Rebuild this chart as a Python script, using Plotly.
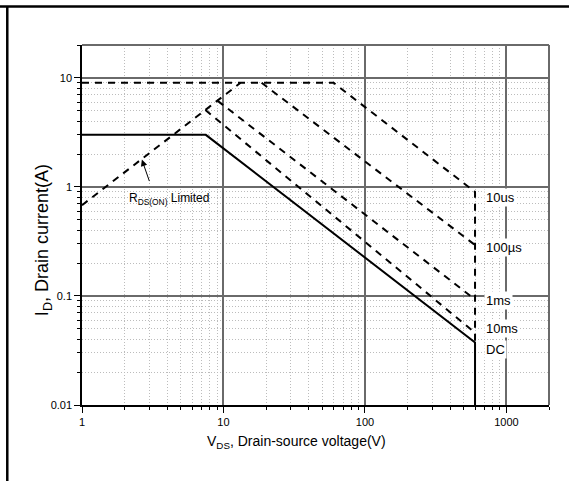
import math
import plotly.graph_objects as go

# ---- data (V in volts, I in amps) ----
dc_v = [1, 7.5, 600, 600]
dc_i = [3.0, 3.0, 0.0375, 0.01]

us10_v = [1, 60, 600, 600]
us10_i = [9.0, 9.0, 0.9, 0.0375]

us100_v = [18.6, 600]
us100_i = [9.0, 0.293]

ms1_v = [9.1, 600]
ms1_i = [6.15, 0.093]

ms10_v = [7.45, 600]
ms10_i = [5.07, 0.046]

rds_v = [1, 13.2]
rds_i = [0.68, 9.0]

series_labels = ["10us", "100\u00b5s", "1ms", "10ms", "DC"]
label_i = [0.80, 0.278, 0.090, 0.050, 0.0326]

x_ticks = [1, 10, 100, 1000]
x_ticktext = ["1", "10", "100", "1000"]
y_ticks = [0.01, 0.1, 1, 10]
y_ticktext = ["0.01", "0.1", "1", "10"]

FONT = "Liberation Sans, Arial, sans-serif"
DASH = "7px,6px"

fig = go.Figure()

def add(v, i, dash):
    fig.add_trace(go.Scatter(x=v, y=i, mode="lines",
                             line=dict(color="black", width=2, dash=dash),
                             hoverinfo="skip"))

add(us10_v, us10_i, DASH)
add(us100_v, us100_i, DASH)
add(ms1_v, ms1_i, DASH)
add(ms10_v, ms10_i, DASH)
add(rds_v, rds_i, DASH)
add(dc_v, dc_i, "solid")

x_minor = [m * 10 ** d for d in range(0, 3) for m in range(2, 10)] + [2000]
y_minor = [m * 10 ** d for d in range(-2, 1) for m in range(2, 10)] + [20]

axis_common = dict(
    showline=True, linecolor="black", linewidth=1.5, mirror=False,
    ticks="outside", ticklen=6, tickwidth=1, tickcolor="black",
    showgrid=True, gridcolor="#6a6a6a", gridwidth=1.5,
    zeroline=False,
    tickfont=dict(family=FONT, size=11, color="black"),
)

minor_common = dict(tickmode="array", ticks="outside", ticklen=3, tickcolor="black",
                    showgrid=True, gridcolor="#bcbcbc", griddash="1px,2px", gridwidth=1)

fig.update_xaxes(type="log", range=[0, math.log10(2000)],
                 tickmode="array", tickvals=x_ticks, ticktext=x_ticktext,
                 minor=dict(tickvals=x_minor, **minor_common),
                 **axis_common)
fig.update_yaxes(type="log", range=[-2, math.log10(20)],
                 tickmode="array", tickvals=y_ticks, ticktext=y_ticktext,
                 minor=dict(tickvals=y_minor, **minor_common),
                 **axis_common)

shapes = [
    # grey top / right plot border
    dict(type="line", xref="x domain", yref="y domain", x0=0, x1=1, y0=1, y1=1,
         line=dict(color="#6a6a6a", width=2)),
    dict(type="line", xref="x domain", yref="y domain", x0=1, x1=1, y0=0, y1=1,
         line=dict(color="#6a6a6a", width=2)),
    # outer frame (top and left)
    dict(type="line", xref="paper", yref="paper", x0=-0.2, x1=1.1, y0=1.107, y1=1.107,
         line=dict(color="black", width=2.5)),
    dict(type="line", xref="paper", yref="paper", x0=-0.16, x1=-0.16, y0=-0.3, y1=1.107,
         line=dict(color="black", width=2.5)),
]

annotations = []
for txt, yi in zip(series_labels, label_i):
    annotations.append(dict(x=2.843, y=math.log10(yi), xref="x", yref="y",
                            text=txt, showarrow=False, xanchor="left", yanchor="middle",
                            bgcolor="white", borderpad=1,
                            font=dict(family=FONT, size=13, color="black")))

annotations.append(dict(x=0.617, y=-0.112, xref="x", yref="y",
                        text="R<sub>DS(ON)</sub> Limited", showarrow=False,
                        xanchor="center", yanchor="middle",
                        font=dict(family=FONT, size=12, color="black")))
annotations.append(dict(x=math.log10(2.65), y=math.log10(1.78), xref="x", yref="y",
                        text="", showarrow=True, ax=8, ay=23,
                        arrowhead=2, arrowsize=1.3, arrowwidth=1, arrowcolor="black"))

annotations.append(dict(x=0.46, y=-0.072, xref="paper", yref="paper",
                        text="V<sub>DS</sub>, Drain-source voltage(V)", showarrow=False,
                        xanchor="center", yanchor="top",
                        font=dict(family=FONT, size=14, color="black")))
annotations.append(dict(x=-0.0835, y=0.458, xref="paper", yref="paper",
                        text="I<sub>D</sub>, Drain current(A)", showarrow=False,
                        textangle=-90, xanchor="center", yanchor="middle",
                        font=dict(family=FONT, size=18, color="black")))

fig.update_layout(
    width=569, height=481,
    margin=dict(l=82, r=20, t=45, b=76),
    plot_bgcolor="white", paper_bgcolor="white",
    showlegend=False,
    shapes=shapes,
    annotations=annotations,
)

fig.write_html("out.html")
